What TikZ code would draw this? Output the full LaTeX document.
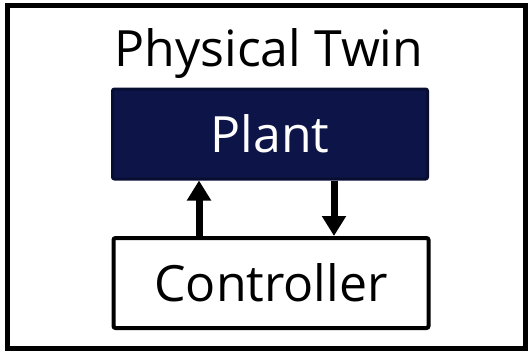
\documentclass[tikz,border=0pt]{standalone}
\usepackage{fontspec}
\setmainfont{Open Sans}
\usepackage{xcolor}
\usepackage{tikz}
\usetikzlibrary{arrows.meta}

\definecolor{navy}{RGB}{13,21,72}
\definecolor{navyline}{RGB}{8,14,50}

\begin{document}
\begin{tikzpicture}[x=1pt,y=-1pt,
  box/.style={rectangle,rounded corners=2pt,minimum width=315pt,minimum height=90pt,inner sep=0pt,
    font=\fontsize{50}{60}\selectfont,text height=36pt,text depth=0pt},
  flow/.style={line width=7pt,-{Triangle[width=23pt,length=20pt]}}]
\useasboundingbox (0,0) rectangle (531,354);
\draw[line width=5pt] (7,5) rectangle (525,348);
\node[font=\fontsize{50}{60}\selectfont,anchor=base] (title) at (269,66) {Physical Twin};
\node[box,fill=navy,draw=navyline,line width=3pt,text=white] (plant) at (270,134) {Plant};
\node[box,draw=black,line width=4pt,fill=white] (ctrl) at (271,283) {Controller};
\draw[flow] ([xshift=-72pt]ctrl.north) -- ([xshift=-71pt]plant.south);
\draw[flow] ([xshift=64pt]plant.south) -- ([xshift=63pt]ctrl.north);
\end{tikzpicture}
\end{document}
